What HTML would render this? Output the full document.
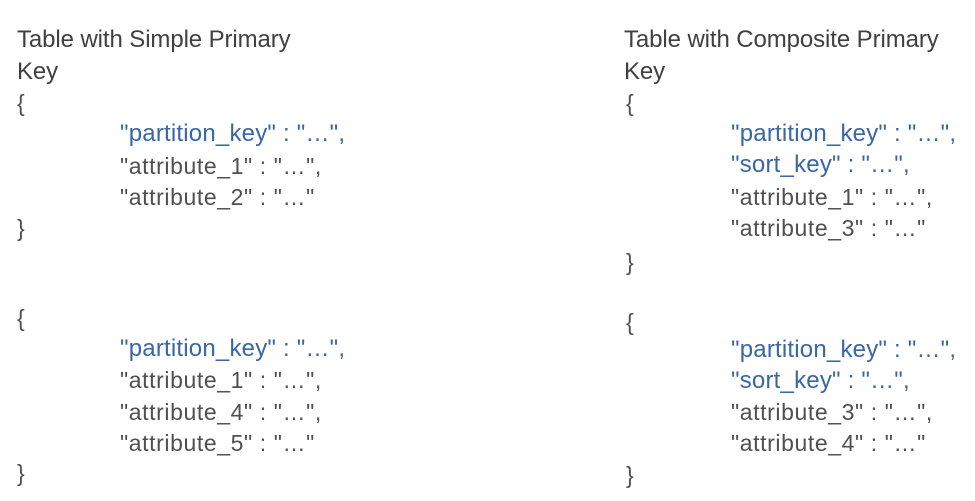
<!DOCTYPE html>
<html><head><meta charset="utf-8"><style>
html,body{margin:0;padding:0;background:#fff;}
body{width:975px;height:501px;position:relative;overflow:hidden;font-family:"Liberation Sans",sans-serif;}
.l{position:absolute;height:30px;line-height:30px;white-space:nowrap;color:#505050;font-size:23px;letter-spacing:0.6px;}
.b{color:#3a66a6;font-size:24px;letter-spacing:0.2px;}
.t{font-size:24px;color:#404040;letter-spacing:-0.1px;}
</style></head><body>
<div>
<div class="l t" style="left:17px;top:25px">Table with Simple Primary</div>
<div class="l t" style="left:17px;top:57px">Key</div>
<div class="l" style="left:17px;top:88px">{</div>
<div class="l b" style="left:120px;top:119px">"partition_key" : "…",</div>
<div class="l" style="left:120px;top:151px">"attribute_1" : "…",</div>
<div class="l" style="left:120px;top:182px">"attribute_2" : "…"</div>
<div class="l" style="left:17px;top:213px">}</div>
<div class="l" style="left:17px;top:303px">{</div>
<div class="l b" style="left:120px;top:334px">"partition_key" : "…",</div>
<div class="l" style="left:120px;top:365px">"attribute_1" : "…",</div>
<div class="l" style="left:120px;top:397px">"attribute_4" : "…",</div>
<div class="l" style="left:120px;top:428px">"attribute_5" : "…"</div>
<div class="l" style="left:17px;top:458px">}</div>
</div>
<div>
<div class="l t" style="left:624px;top:25px">Table with Composite Primary</div>
<div class="l t" style="left:624px;top:57px">Key</div>
<div class="l" style="left:626px;top:88px">{</div>
<div class="l b" style="left:731px;top:119px">"partition_key" : "…",</div>
<div class="l b" style="left:731px;top:150px">"sort_key" : "…",</div>
<div class="l" style="left:731px;top:182px">"attribute_1" : "…",</div>
<div class="l" style="left:731px;top:213px">"attribute_3" : "…"</div>
<div class="l" style="left:626px;top:247px">}</div>
<div class="l" style="left:626px;top:307px">{</div>
<div class="l b" style="left:731px;top:335px">"partition_key" : "…",</div>
<div class="l b" style="left:731px;top:366px">"sort_key" : "…",</div>
<div class="l" style="left:731px;top:397px">"attribute_3" : "…",</div>
<div class="l" style="left:731px;top:428px">"attribute_4" : "…"</div>
<div class="l" style="left:626px;top:460px">}</div>
</div>
</body></html>
